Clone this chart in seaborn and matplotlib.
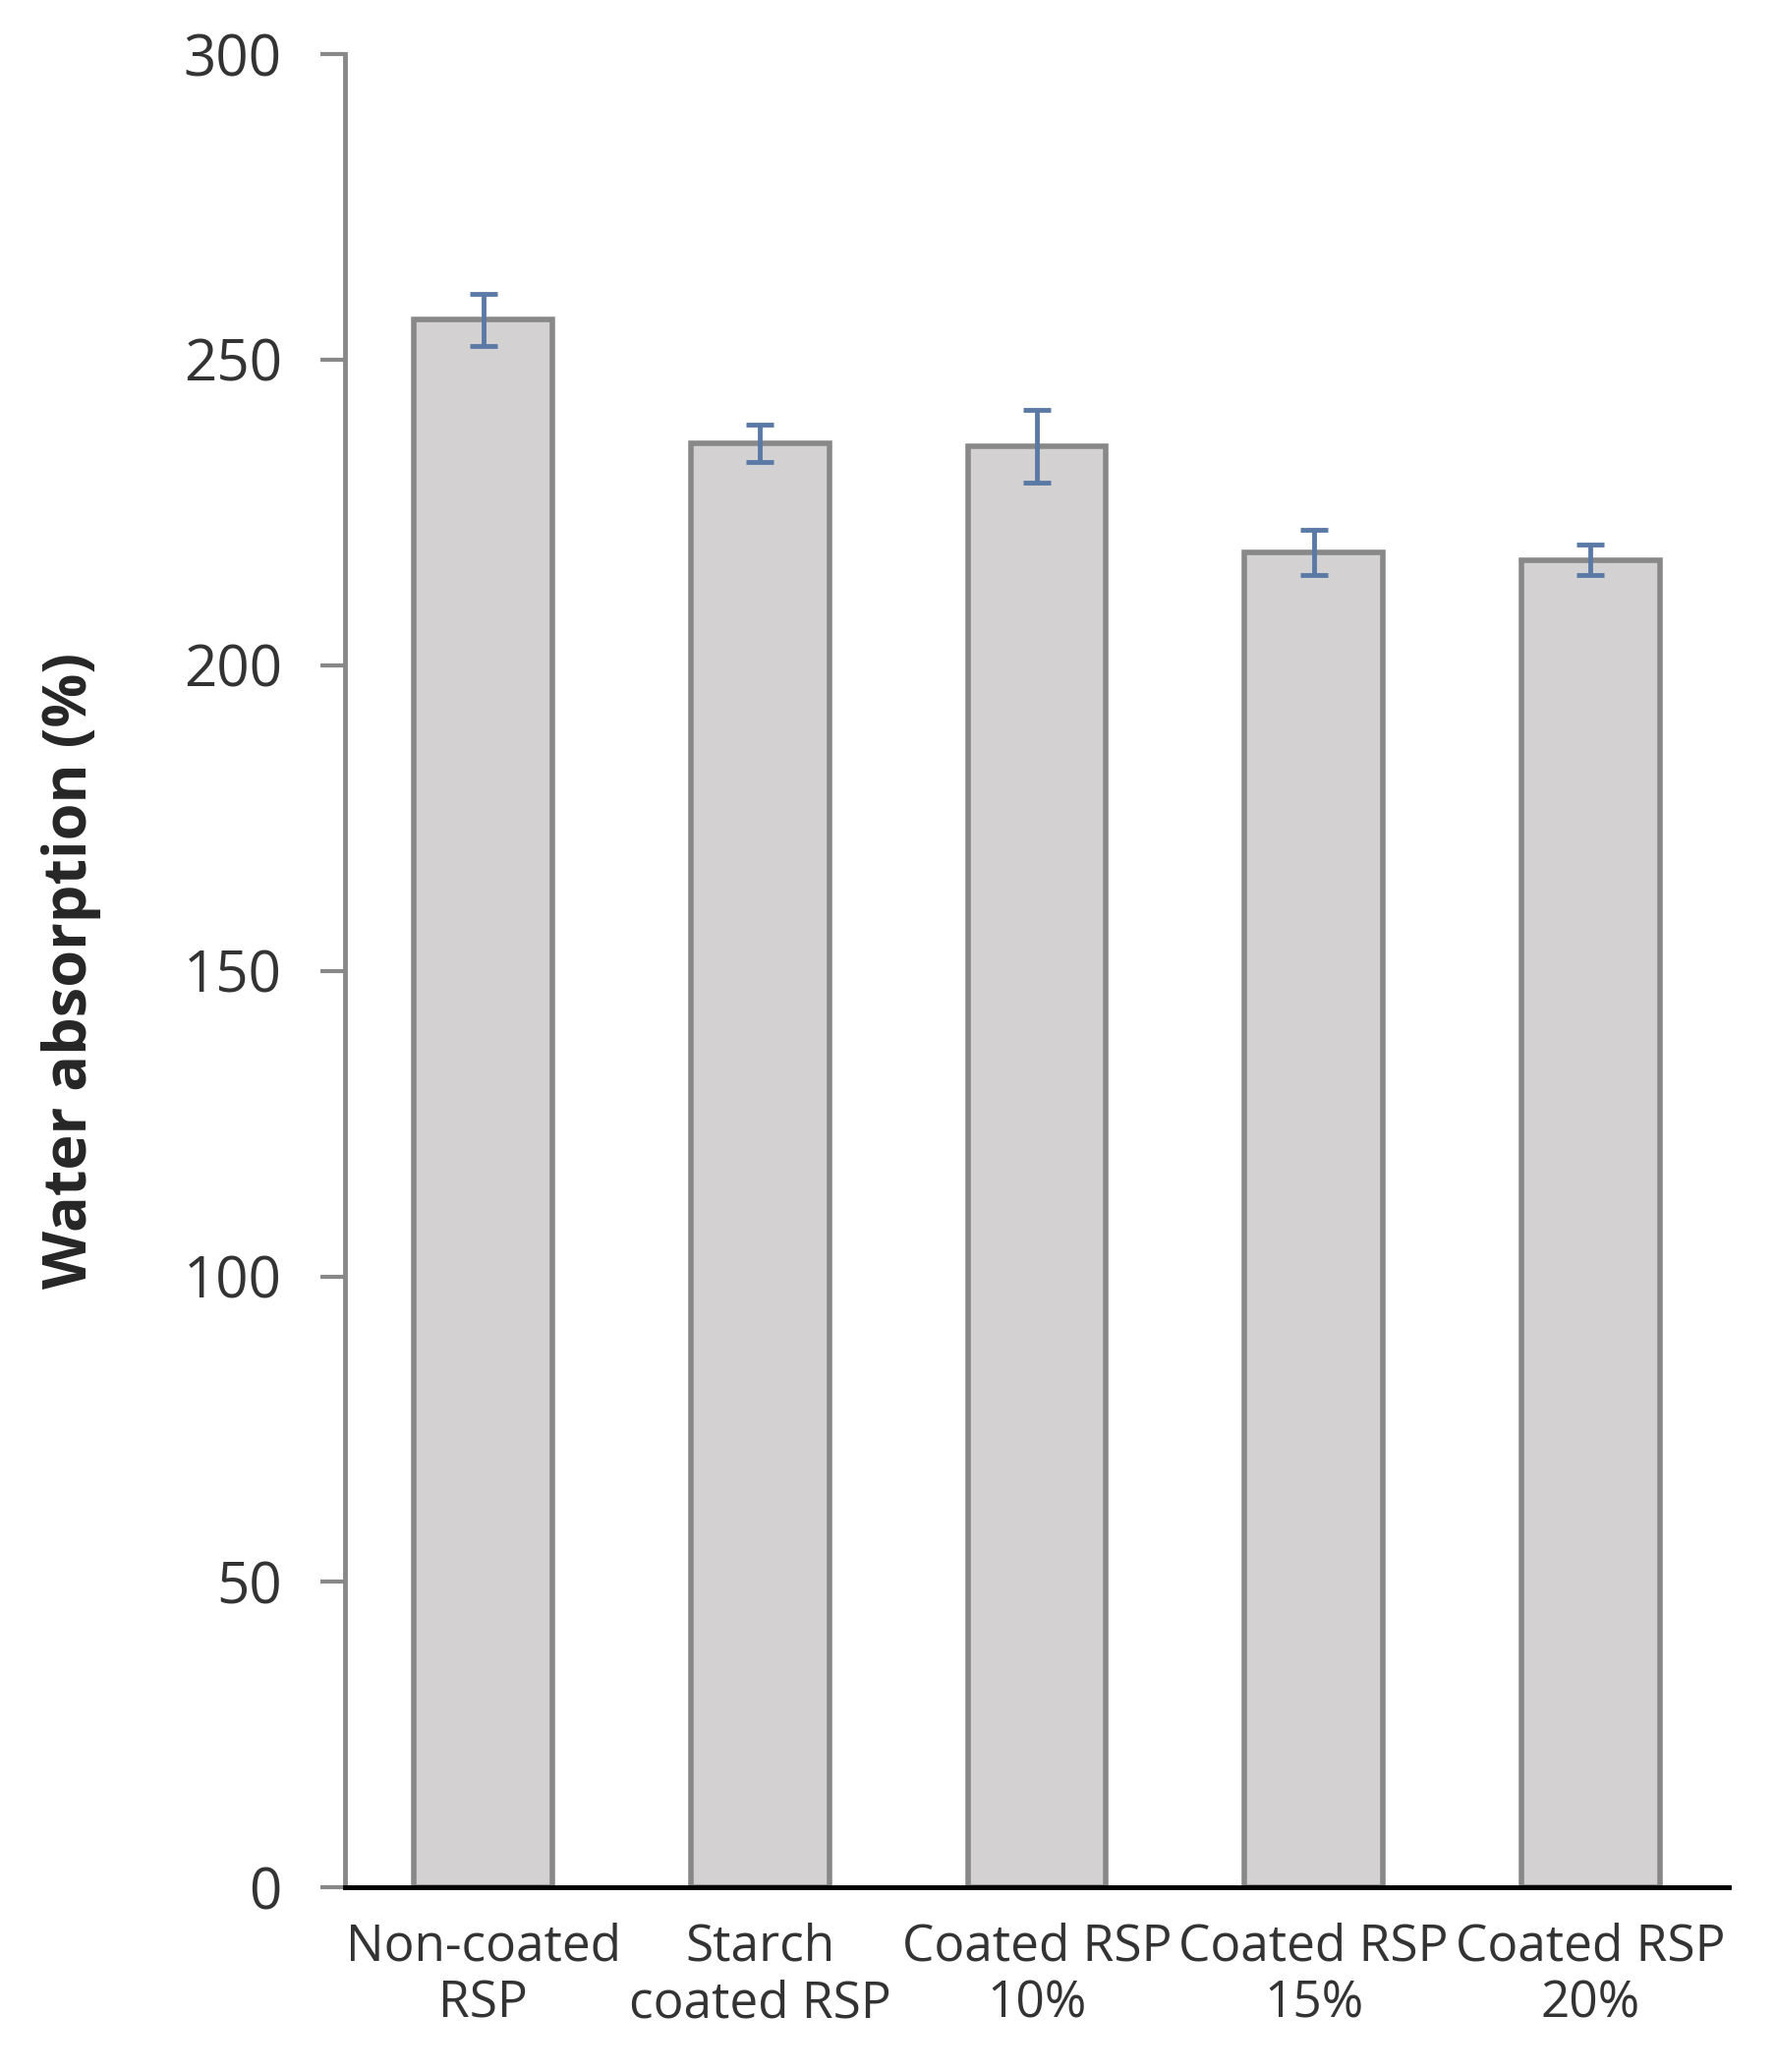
import seaborn as sns
import matplotlib.pyplot as plt
import pandas as pd

categories = ['Non-coated\nRSP', 'Starch\ncoated RSP', 'Coated RSP\n10%', 'Coated RSP\n15%', 'Coated RSP\n20%']
values = [256.5, 236.3, 235.8, 218.5, 217.2]
errors = [4.3, 3.0, 6.0, 3.7, 2.5]

data = pd.DataFrame({'cat': categories, 'val': values})

sns.set_style('white')
plt.rcParams['font.family'] = ['Open Sans', 'DejaVu Sans']

fig = plt.figure(figsize=(18.08, 21.08), dpi=100)
ax = fig.add_axes([0.194, 0.089, 0.779, 0.885])
sns.barplot(data=data, x='cat', y='val', color='#d3d1d2', saturation=1,
            width=0.5, edgecolor='#888888', linewidth=4, errorbar=None, ax=ax)
ax.errorbar(range(len(values)), values, yerr=errors, fmt='none',
            ecolor='#5a7aa5', elinewidth=3.5, capsize=10, capthick=3.5)

ax.set_ylim(0, 300)
ax.set_yticks(range(0, 301, 50))
ax.set_xlim(-0.5, 4.5)
ax.set_xlabel('')
ax.set_ylabel('Water absorption (%)', fontsize=44, fontweight='bold', labelpad=60)
ax.tick_params(axis='y', labelsize=42, length=18, width=3, color='#888888', pad=28, direction='out', left=True)
ax.tick_params(axis='x', labelsize=37, length=0, pad=25)
for t in ax.get_yticklabels():
    t.set_color('#333333')
for t in ax.get_xticklabels():
    t.set_color('#333333')
for s in ['top', 'right']:
    ax.spines[s].set_visible(False)
ax.spines['left'].set_color('#888888')
ax.spines['left'].set_linewidth(3.5)
ax.spines['bottom'].set_color('black')
ax.spines['bottom'].set_linewidth(3.5)

fig.savefig('out.png', dpi=100)
